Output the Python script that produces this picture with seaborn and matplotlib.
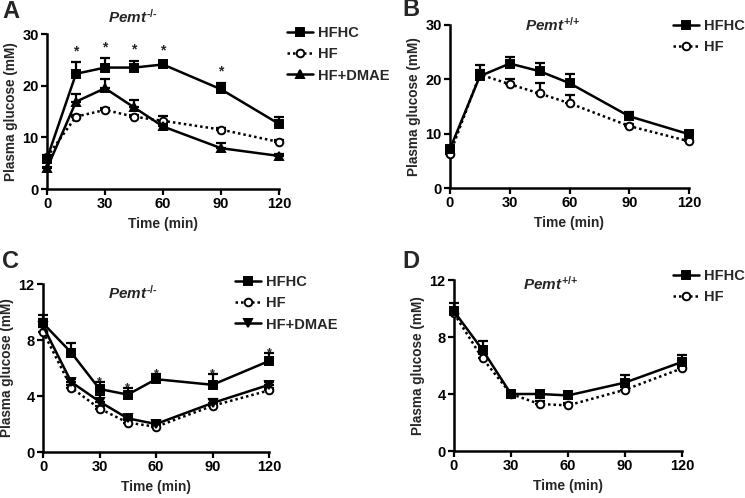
import numpy as np
import pandas as pd
import seaborn as sns
import matplotlib
matplotlib.use("Agg")
import matplotlib.pyplot as plt
from matplotlib.lines import Line2D

sns.set_style("ticks")
plt.rcParams['font.family'] = ['Liberation Sans', 'DejaVu Sans']
plt.rcParams['font.weight'] = 'bold'
plt.rcParams['mathtext.fontset'] = 'custom'
plt.rcParams['mathtext.it'] = 'Liberation Sans:italic:bold'
plt.rcParams['mathtext.rm'] = 'Liberation Sans:bold'

time = [0, 15, 30, 45, 60, 90, 120]
xticks = [0, 30, 60, 90, 120]

# Panel A (Pemt-/-, GTT)
a_hfhc = [5.9, 22.3, 23.5, 23.5, 24.1, 19.3, 12.6]
a_hfhc_err = [0.5, 2.2, 1.8, 1.3, 0.5, 1.2, 1.3]
a_hf = [6.2, 14.0, 15.3, 14.0, 13.2, 11.5, 9.1]
a_hf_err = [0.3, 0.4, 0.3, 0.3, 0.9, 0.3, 0.3]
a_dmae = [4.0, 16.9, 19.5, 15.8, 12.1, 7.9, 6.4]
a_dmae_err = [0.3, 1.4, 1.7, 1.4, 0.5, 1.0, 0.3]
a_star_x = [15, 30, 45, 60, 90]

# Panel B (Pemt+/+, GTT)
b_hfhc = [7.2, 20.6, 22.9, 21.5, 19.3, 13.2, 9.9]
b_hfhc_err = [0.4, 2.1, 1.2, 1.5, 1.6, 0.8, 0.4]
b_hf = [6.3, 20.9, 19.1, 17.4, 15.6, 11.4, 8.6]
b_hf_err = [0.3, 0.8, 0.9, 2.0, 1.5, 0.4, 0.3]

# Panel C (Pemt-/-, ITT)
c_hfhc = [9.2, 7.1, 4.5, 4.1, 5.2, 4.8, 6.5]
c_hfhc_err = [0.6, 0.7, 0.5, 0.5, 0.4, 0.8, 0.6]
c_hf = [8.6, 4.6, 3.1, 2.1, 1.8, 3.3, 4.4]
c_hf_err = [0.3, 0.2, 0.2, 0.2, 0.1, 0.2, 0.2]
c_dmae = [9.0, 5.0, 3.6, 2.4, 2.0, 3.5, 4.8]
c_dmae_err = [0.5, 0.2, 0.5, 0.2, 0.2, 0.3, 0.2]
c_star_x = [30, 45, 60, 90, 120]

# Panel D (Pemt+/+, ITT)
d_hfhc = [9.8, 7.1, 4.0, 4.0, 3.9, 4.8, 6.25]
d_hfhc_err = [0.6, 0.6, 0.2, 0.2, 0.2, 0.5, 0.5]
d_hf = [9.65, 6.5, 4.0, 3.3, 3.2, 4.3, 5.8]
d_hf_err = [0.3, 0.3, 0.2, 0.2, 0.2, 0.2, 0.2]

W, H = 745, 498
fig = plt.figure(figsize=(7.45, 4.98), dpi=100)

def axpix(l, t, r, b):
    return fig.add_axes([l / W, 1 - b / H, (r - l) / W, (b - t) / H])

MS = 5.5
LW = 1.8
styles = {
    'HFHC': dict(marker='s', mfc='black', ls='-'),
    'HF': dict(marker='o', mfc='white', ls=(0, (1.0, 1.2))),
    'HF+DMAE_up': dict(marker='^', mfc='black', ls='-'),
    'HF+DMAE_down': dict(marker='v', mfc='black', ls='-'),
}

def series(ax, y, err, key, z):
    st = styles[key]
    df = pd.DataFrame({'t': time, 'y': y})
    ax.errorbar(time, y, yerr=[np.zeros(len(y)), err], fmt='none', ecolor='black',
                elinewidth=1.6, capsize=3.5, capthick=1.6, zorder=z, clip_on=False)
    sns.lineplot(data=df, x='t', y='y', ax=ax, color='black', lw=LW,
                 linestyle=st['ls'], marker=st['marker'], markersize=MS,
                 markerfacecolor=st['mfc'], markeredgecolor='black', markeredgewidth=1.4,
                 zorder=z + 1, clip_on=False)

def style_ax(ax, ymax, yt):
    ax.set_xlim(0, 120)
    ax.set_ylim(0, ymax)
    ax.set_xticks(xticks)
    ax.set_yticks(yt)
    for s in ['top', 'right']:
        ax.spines[s].set_visible(False)
    for s in ['left', 'bottom']:
        ax.spines[s].set_linewidth(1.8)
        ax.spines[s].set_color('black')
    ax.tick_params(axis='both', length=4, width=1.6, labelsize=10.5, pad=2, colors='black')
    for lab in ax.get_xticklabels() + ax.get_yticklabels():
        lab.set_fontweight('bold')
    ax.set_xlabel('Time (min)', fontsize=10, fontweight='bold', labelpad=4)
    ax.set_ylabel('Plasma glucose (mM)', fontsize=9.8, fontweight='bold', labelpad=3)

def legend(ax, entries, x, y):
    handles = []
    for lab, key in entries:
        st = styles[key]
        handles.append(Line2D([], [], color='black', lw=LW, linestyle=st['ls'],
                              marker=st['marker'], markersize=MS, markerfacecolor=st['mfc'],
                              markeredgecolor='black', markeredgewidth=1.4))
    labs = [e[0] for e in entries]
    fig.legend(handles, labs, loc='upper left', bbox_to_anchor=(x / W, 1 - y / H),
               frameon=False, prop={'weight': 'bold', 'size': 10.5}, handlelength=1.8,
               handletextpad=0.3, labelspacing=0.5, borderpad=0, borderaxespad=0)

TITLE_FS = 11

# Panel A
axA = axpix(47, 34, 279, 189)
series(axA, a_hf, a_hf_err, 'HF', 3)
series(axA, a_dmae, a_dmae_err, 'HF+DMAE_up', 5)
series(axA, a_hfhc, a_hfhc_err, 'HFHC', 7)
style_ax(axA, 30, [0, 10, 20, 30])
for x in a_star_x:
    i = time.index(x)
    axA.text(x, a_hfhc[i] + a_hfhc_err[i] + 0.8, '*', ha='center', va='bottom',
             fontsize=10, fontweight='bold')
axA.text(0.37, 1.11, r'$Pemt^{\text{-/-}}$', transform=axA.transAxes, ha='center', va='center', fontsize=TITLE_FS)
legend(axA, [('HFHC', 'HFHC'), ('HF', 'HF'), ('HF+DMAE', 'HF+DMAE_up')], 287, 26)

# Panel B
axB = axpix(450, 25, 689, 188)
series(axB, b_hf, b_hf_err, 'HF', 3)
series(axB, b_hfhc, b_hfhc_err, 'HFHC', 7)
style_ax(axB, 30, [0, 10, 20, 30])
axB.text(0.43, 1.0, r'$Pemt^{\text{+/+}}$', transform=axB.transAxes, ha='center', va='center', fontsize=TITLE_FS)
legend(axB, [('HFHC', 'HFHC'), ('HF', 'HF')], 673, 19)

# Panel C
axC = axpix(43, 284, 269, 452)
series(axC, c_hf, c_hf_err, 'HF', 3)
series(axC, c_dmae, c_dmae_err, 'HF+DMAE_down', 5)
series(axC, c_hfhc, c_hfhc_err, 'HFHC', 7)
style_ax(axC, 12, [0, 4, 8, 12])
for x in c_star_x:
    i = time.index(x)
    axC.text(x, c_hfhc[i] + c_hfhc_err[i] - 0.45, '*', ha='center', va='bottom',
             fontsize=9, fontweight='bold')
axC.text(0.40, 0.946, r'$Pemt^{\text{-/-}}$', transform=axC.transAxes, ha='center', va='center', fontsize=TITLE_FS)
legend(axC, [('HFHC', 'HFHC'), ('HF', 'HF'), ('HF+DMAE', 'HF+DMAE_down')], 235, 275)

# Panel D
axD = axpix(454, 280, 682, 451)
series(axD, d_hf, d_hf_err, 'HF', 3)
series(axD, d_hfhc, d_hfhc_err, 'HFHC', 7)
style_ax(axD, 12, [0, 4, 8, 12])
axD.text(0.425, 0.977, r'$Pemt^{\text{+/+}}$', transform=axD.transAxes, ha='center', va='center', fontsize=TITLE_FS)
legend(axD, [('HFHC', 'HFHC'), ('HF', 'HF')], 673, 269)

# Panel letters
for lab, x, y in [('A', 2, 11), ('B', 402, 10), ('C', 2, 262), ('D', 402, 262)]:
    fig.text(x / W, 1 - y / H, lab, fontsize=17, fontweight='bold', ha='left', va='center')

fig.savefig('out.png', dpi=100)
